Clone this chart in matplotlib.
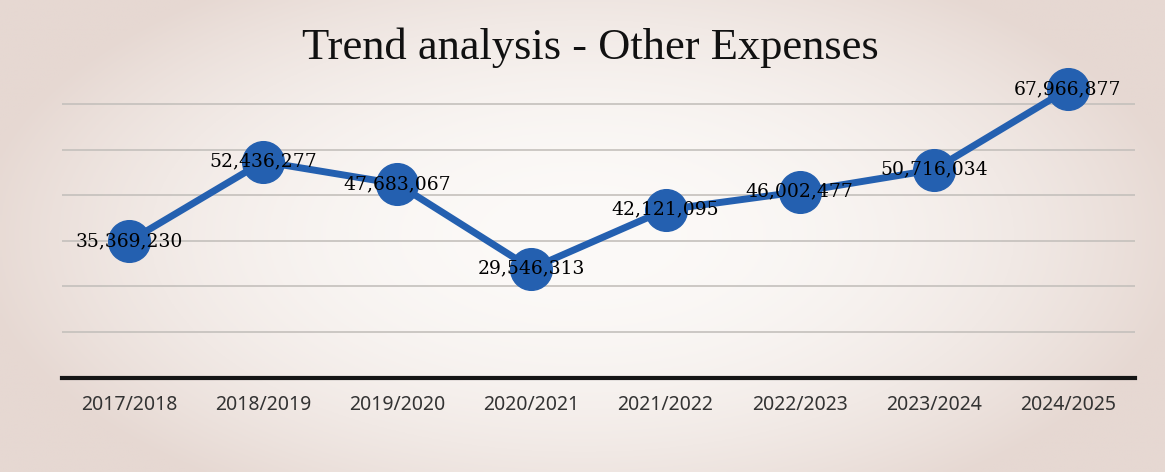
import numpy as np
import matplotlib
matplotlib.use("Agg")
import matplotlib.pyplot as plt

# Other expenses per financial year
years = ['2017/2018', '2018/2019', '2019/2020', '2020/2021',
         '2021/2022', '2022/2023', '2023/2024', '2024/2025']
expenses = [35369230, 52436277, 47683067, 29546313,
            42121095, 46002477, 50716034, 67966877]

fig = plt.figure(figsize=(11.65, 4.72), dpi=100)

# scanned-paper look: pale centre fading to beige at the edges
bg = fig.add_axes([0, 0, 1, 1], zorder=-10)
yy, xx = np.mgrid[-1:1:200j, -1:1:400j]
r = np.clip(np.sqrt((xx / 1.05) ** 2 + (yy / 1.3) ** 2), 0, 1)
centre = np.array([252, 250, 248]) / 255
edge = np.array([230, 216, 210]) / 255
img = centre[None, None, :] * (1 - r[..., None] ** 2) + edge[None, None, :] * r[..., None] ** 2
bg.imshow(img, aspect='auto', extent=[0, 1, 0, 1])
bg.axis('off')

ax = fig.add_axes([62 / 1165, (472 - 378) / 472, (1135 - 62) / 1165, 338 / 472])
ax.patch.set_alpha(0)

x = np.arange(len(years))
ax.plot(x, expenses, color='#2460b0', linewidth=5, marker='o',
        markersize=30, solid_capstyle='round', zorder=3)

for xi, v in zip(x, expenses):
    ax.text(xi, v, f'{v:,}', ha='center', va='center', fontsize=13.5,
            family='DejaVu Serif', color='black', zorder=4)

ax.set_xlim(-0.5, len(years) - 0.5)
ax.set_ylim(6.1e6, 78.5e6)
ax.set_yticks(np.arange(16e6, 70e6, 9.75e6))
ax.yaxis.grid(True, color='#c4c0bc', linewidth=1.2)
ax.set_axisbelow(True)
ax.tick_params(axis='y', length=0, labelleft=False)

ax.set_xticks(x)
ax.set_xticklabels(years, fontsize=14, family='Noto Sans', color='#333333')
ax.tick_params(axis='x', length=0, pad=12)

for side in ['top', 'right', 'left']:
    ax.spines[side].set_visible(False)
ax.spines['bottom'].set_color('#151515')
ax.spines['bottom'].set_linewidth(3)

fig.text(590 / 1165, 1 - 48 / 472, 'Trend analysis - Other Expenses',
         ha='center', va='center', fontsize=32, family='Liberation Serif',
         color='#111111')

fig.savefig('out.png', dpi=100)
